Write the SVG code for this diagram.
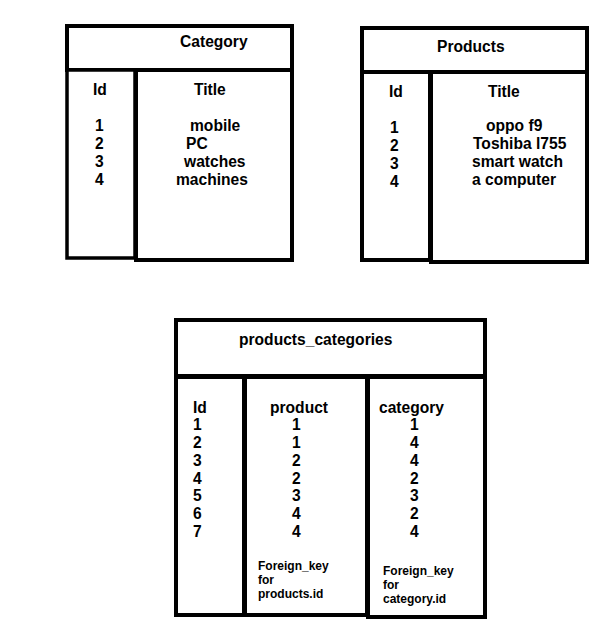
<svg xmlns="http://www.w3.org/2000/svg" width="615" height="628" viewBox="0 0 615 628">
<style>
rect{fill:#fff;stroke:#000;stroke-width:4}
text{font-family:"Liberation Sans",Arial,sans-serif;font-weight:bold;font-size:15.6px;fill:#000}
.s{font-size:12px}
</style>
<rect x="0" y="0" width="615" height="628" style="stroke:none"/>
<g id="category">
<rect x="67" y="26" width="225" height="44"/>
<rect x="67" y="70" width="68" height="188" style="stroke-width:3.5"/>
<rect x="136" y="70" width="156" height="190"/>
<text x="180" y="47">Category</text>
<text x="93" y="95">Id</text>
<text x="194" y="95">Title</text>
<text x="95" y="131">1</text>
<text x="95" y="149">2</text>
<text x="95" y="167">3</text>
<text x="95" y="185">4</text>
<text x="190" y="131">mobile</text>
<text x="186" y="149">PC</text>
<text x="184" y="167">watches</text>
<text x="176" y="185">machines</text>
</g>
<g id="products">
<rect x="362" y="28" width="225" height="44"/>
<rect x="362" y="72" width="68" height="188"/>
<rect x="431" y="72" width="156" height="190"/>
<text x="437" y="52">Products</text>
<text x="389" y="97">Id</text>
<text x="488" y="97">Title</text>
<text x="390" y="133">1</text>
<text x="390" y="151">2</text>
<text x="390" y="169">3</text>
<text x="390" y="187">4</text>
<text x="486" y="131">oppo f9</text>
<text x="473" y="149">Toshiba l755</text>
<text x="472" y="167">smart watch</text>
<text x="472" y="185">a computer</text>
</g>
<g id="products_categories">
<rect x="176" y="320" width="309" height="56"/>
<rect x="176" y="377" width="68" height="238"/>
<rect x="245" y="377" width="122" height="238"/>
<rect x="368" y="377" width="117" height="240"/>
<text x="239" y="345">products_categories</text>
<text x="193" y="413">Id</text>
<text x="270" y="413">product</text>
<text x="379" y="413">category</text>
<text x="193" y="430">1</text>
<text x="193" y="448">2</text>
<text x="193" y="466">3</text>
<text x="193" y="484">4</text>
<text x="193" y="501">5</text>
<text x="193" y="519">6</text>
<text x="193" y="537">7</text>
<text x="292" y="430">1</text>
<text x="292" y="448">1</text>
<text x="292" y="466">2</text>
<text x="292" y="484">2</text>
<text x="292" y="501">3</text>
<text x="292" y="519">4</text>
<text x="292" y="537">4</text>
<text x="410" y="430">1</text>
<text x="410" y="448">4</text>
<text x="410" y="466">4</text>
<text x="410" y="484">2</text>
<text x="410" y="501">3</text>
<text x="410" y="519">2</text>
<text x="410" y="537">4</text>
<text class="s" x="258" y="570">Foreign_key</text>
<text class="s" x="258" y="584">for</text>
<text class="s" x="258" y="598">products.id</text>
<text class="s" x="383" y="575">Foreign_key</text>
<text class="s" x="383" y="589">for</text>
<text class="s" x="383" y="603">category.id</text>
</g>
<g id="connectors"/>
</svg>
